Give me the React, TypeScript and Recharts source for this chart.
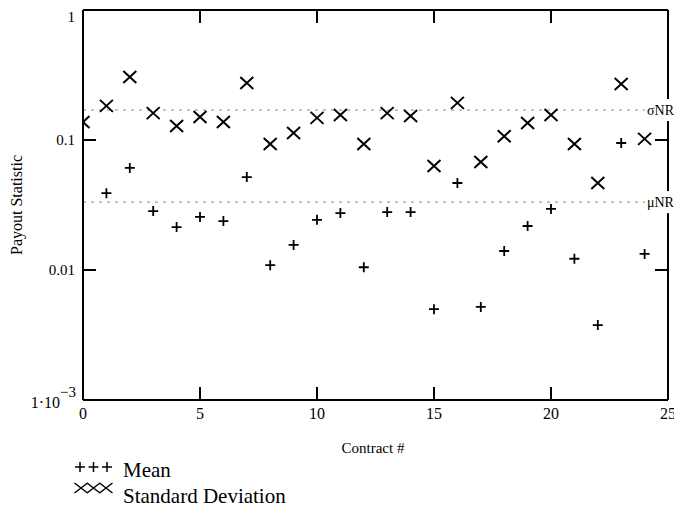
import { ScatterChart, Scatter, XAxis, YAxis, ReferenceLine } from "recharts";

const contracts = [0, 1, 2, 3, 4, 5, 6, 7, 8, 9, 10, 11, 12, 13, 14, 15, 16, 17, 18, 19, 20, 21, 22, 23, 24];
const meanValues: (number | null)[] = [
  null, 0.039, 0.061, 0.0284, 0.0214, 0.0256, 0.0238, 0.0519, 0.0109, 0.0156, 0.0243, 0.0274, 0.0105,
  0.0279, 0.0279, 0.005, 0.0467, 0.0052, 0.014, 0.0218, 0.0295, 0.0122, 0.00377, 0.0948, 0.0133,
];
const stdDevValues = [
  0.1375, 0.183, 0.305, 0.161, 0.128, 0.15, 0.1375, 0.274, 0.093, 0.113, 0.148, 0.156, 0.093,
  0.161, 0.153, 0.063, 0.193, 0.0677, 0.107, 0.135, 0.156, 0.093, 0.0467, 0.27, 0.102,
];
const sigmaNR = 0.17;
const muNR = 0.0333;
const xTicks = [0, 5, 10, 15, 20, 25];
const yTicks = [0.001, 0.01, 0.1, 1];
const innerXTicks = [5, 10, 15, 20];
const innerYTicks = [0.01, 0.1];

const FONT = '"Liberation Serif", "Times New Roman", serif';
const AXIS = { stroke: "#000", strokeWidth: 2 };
const W = 674;
const H = 498;
const MARGIN = { top: 2, right: 14, bottom: 76, left: 0 };
const Y_AXIS_W = 75;
const X_AXIS_H = 30;
const PLOT_X = MARGIN.left + Y_AXIS_W;
const PLOT_Y = MARGIN.top;
const PLOT_W = W - MARGIN.left - MARGIN.right - Y_AXIS_W;
const PLOT_H = H - MARGIN.top - MARGIN.bottom - X_AXIS_H;
const TICK_LEN = 13;
const TICK_W = 2;

// frame tick positions in the overlay (same domains as the axes)
const tickX = (v: number) => PLOT_X + (v / 25) * PLOT_W;
const tickY = (v: number) => PLOT_Y + (-Math.log10(v) / 3) * PLOT_H;

const meanData = contracts
  .map((c, i) => ({ x: c, y: meanValues[i] }))
  .filter((d) => d.y != null);
const stdData = contracts.map((c, i) => ({ x: c, y: stdDevValues[i] }));

const PlusMark = (props: any) => {
  const { cx, cy } = props;
  return (
    <path
      d={`M${cx - 5},${cy}H${cx + 5}M${cx},${cy - 5}V${cy + 5}`}
      stroke="#000"
      strokeWidth={1.8}
      fill="none"
    />
  );
};

const CrossMark = (props: any) => {
  const { cx, cy } = props;
  return (
    <path
      d={`M${cx - 6.5},${cy - 6}L${cx + 6.5},${cy + 6}M${cx - 6.5},${cy + 6}L${cx + 6.5},${cy - 6}`}
      stroke="#000"
      strokeWidth={2}
      fill="none"
    />
  );
};

const YTick = (props: any) => {
  const { x, y, payload } = props;
  const v = payload.value;
  if (v === 0.001) {
    return (
      <text x={x + 1} y={y + 8} textAnchor="end" fontFamily={FONT} fontSize={16} fill="#000">
        1·10
        <tspan dy={-11} fontSize={15}>−3</tspan>
      </text>
    );
  }
  const label = v === 1 ? "1" : v === 0.1 ? "0.1" : "0.01";
  return (
    <text x={x} y={y} dy="0.355em" textAnchor="end" fontFamily={FONT} fontSize={15} fill="#000">
      {label}
    </text>
  );
};

const lineLabel = (text: string) => (props: any) => {
  const { viewBox } = props;
  const x = viewBox.x + viewBox.width - 21;
  const y = viewBox.y;
  return (
    <g>
      <rect x={x - 2} y={y - 11} width={34} height={22} fill="#fff" />
      <text x={x} y={y} dy="0.35em" fontFamily={FONT} fontSize={14} fill="#000">
        {text}
      </text>
    </g>
  );
};

export default function App() {
  return (
    <div style={{ position: "relative", width: W, height: H }}>
      <ScatterChart width={W} height={H} margin={MARGIN}>
        <XAxis
          type="number"
          dataKey="x"
          domain={[0, 25]}
          ticks={xTicks}
          allowDataOverflow
          height={X_AXIS_H}
          tickSize={0}
          tickMargin={8}
          tickLine={false}
          axisLine={AXIS}
          tick={{ fill: "#000", fontSize: 16, fontFamily: FONT }}
        />
        <YAxis
          type="number"
          dataKey="y"
          scale="log"
          domain={[0.001, 1]}
          ticks={yTicks}
          allowDataOverflow
          width={Y_AXIS_W}
          tickSize={0}
          tickMargin={8}
          tickLine={false}
          axisLine={AXIS}
          tick={<YTick />}
        />

        {/* top and right borders */}
        <ReferenceLine y={1} stroke="#000" strokeWidth={2} />
        <ReferenceLine x={25} stroke="#000" strokeWidth={2} />

        <ReferenceLine
          y={sigmaNR}
          stroke="#888"
          strokeWidth={1}
          strokeDasharray="3 5"
          label={lineLabel("σNR")}
        />
        <ReferenceLine
          y={muNR}
          stroke="#888"
          strokeWidth={1}
          strokeDasharray="3 5"
          label={lineLabel("μNR")}
        />

        <Scatter name="Mean" data={meanData} shape={<PlusMark />} isAnimationActive={false} />
        <Scatter name="Standard Deviation" data={stdData} shape={<CrossMark />} isAnimationActive={false} />
      </ScatterChart>

      <svg
        width={W}
        height={H}
        style={{ position: "absolute", left: 0, top: 0, pointerEvents: "none", overflow: "visible", zIndex: 2 }}
      >
        {/* inward tick marks on all four borders, as filled bars */}
        {innerXTicks.map((t) => (
          <g key={`tx${t}`} fill="#000">
            <rect x={tickX(t) - TICK_W / 2} y={PLOT_Y + PLOT_H - TICK_LEN} width={TICK_W} height={TICK_LEN} />
            <rect x={tickX(t) - TICK_W / 2} y={PLOT_Y} width={TICK_W} height={TICK_LEN} />
          </g>
        ))}
        {innerYTicks.map((t) => (
          <g key={`ty${t}`} fill="#000">
            <rect x={PLOT_X} y={tickY(t) - TICK_W / 2} width={TICK_LEN} height={TICK_W} />
            <rect x={PLOT_X + PLOT_W - TICK_LEN} y={tickY(t) - TICK_W / 2} width={TICK_LEN} height={TICK_W} />
          </g>
        ))}

        <text x={365} y={445} textAnchor="middle" fontFamily={FONT} fontSize={15} fill="#000">
          Contract #
        </text>
        <text
          transform="translate(14,197) rotate(-90)"
          textAnchor="middle"
          fontFamily={FONT}
          fontSize={16}
          fill="#000"
        >
          Payout Statistic
        </text>

        {/* legend */}
        {[72, 85.5, 99].map((cx) => (
          <path
            key={`lp${cx}`}
            d={`M${cx - 5},459H${cx + 5}M${cx},454V464`}
            stroke="#000"
            strokeWidth={1.5}
          />
        ))}
        <text x={115} y={469} fontFamily={FONT} fontSize={21} fill="#000">
          Mean
        </text>
        {[73, 85.5, 98].map((cx) => (
          <path
            key={`lx${cx}`}
            d={`M${cx - 6.5},${475}L${cx + 6.5},${485}M${cx - 6.5},${485}L${cx + 6.5},${475}`}
            stroke="#000"
            strokeWidth={1.5}
          />
        ))}
        <text x={115} y={495} fontFamily={FONT} fontSize={21} fill="#000">
          Standard Deviation
        </text>
      </svg>
    </div>
  );
}
